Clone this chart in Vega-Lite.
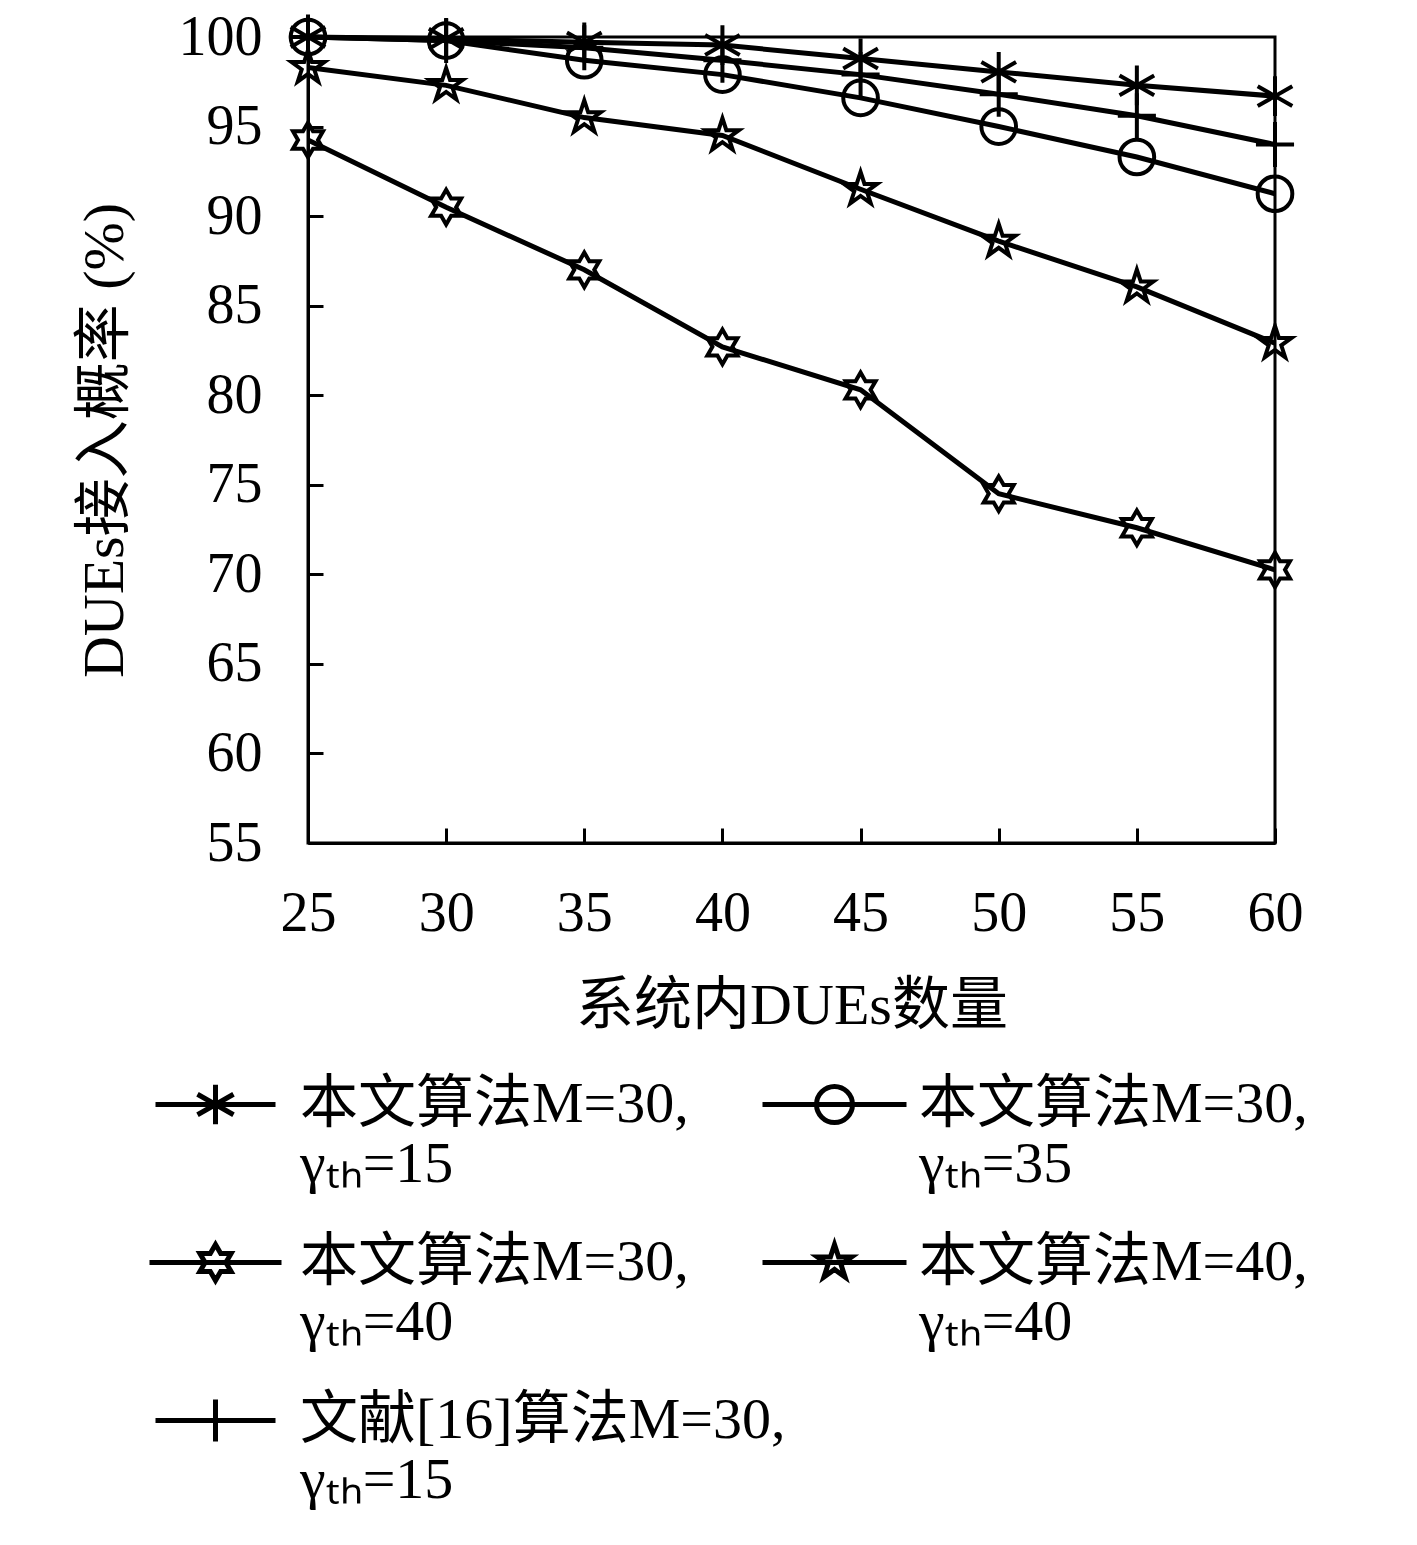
{
  "$schema": "https://vega.github.io/schema/vega-lite/v6.json",
  "description": "DUEs access probability versus number of DUEs in the system",
  "width": 967,
  "height": 806,
  "autosize": {"type": "none"},
  "padding": {"left": 308, "top": 37, "right": 142, "bottom": 702},
  "background": "white",
  "data": {
    "values": [
      {"n": 25, "p": 100, "series": "本文算法M=30,|γₜₕ=15"},
      {"n": 30, "p": 99.9, "series": "本文算法M=30,|γₜₕ=15"},
      {"n": 35, "p": 99.7, "series": "本文算法M=30,|γₜₕ=15"},
      {"n": 40, "p": 99.55, "series": "本文算法M=30,|γₜₕ=15"},
      {"n": 45, "p": 98.8, "series": "本文算法M=30,|γₜₕ=15"},
      {"n": 50, "p": 98.05, "series": "本文算法M=30,|γₜₕ=15"},
      {"n": 55, "p": 97.3, "series": "本文算法M=30,|γₜₕ=15"},
      {"n": 60, "p": 96.7, "series": "本文算法M=30,|γₜₕ=15"},
      {"n": 25, "p": 100, "series": "本文算法M=30,|γₜₕ=35"},
      {"n": 30, "p": 99.8, "series": "本文算法M=30,|γₜₕ=35"},
      {"n": 35, "p": 98.7, "series": "本文算法M=30,|γₜₕ=35"},
      {"n": 40, "p": 97.9, "series": "本文算法M=30,|γₜₕ=35"},
      {"n": 45, "p": 96.6, "series": "本文算法M=30,|γₜₕ=35"},
      {"n": 50, "p": 95.0, "series": "本文算法M=30,|γₜₕ=35"},
      {"n": 55, "p": 93.3, "series": "本文算法M=30,|γₜₕ=35"},
      {"n": 60, "p": 91.25, "series": "本文算法M=30,|γₜₕ=35"},
      {"n": 25, "p": 94.25, "series": "本文算法M=30,|γₜₕ=40"},
      {"n": 30, "p": 90.5, "series": "本文算法M=30,|γₜₕ=40"},
      {"n": 35, "p": 87.0, "series": "本文算法M=30,|γₜₕ=40"},
      {"n": 40, "p": 82.7, "series": "本文算法M=30,|γₜₕ=40"},
      {"n": 45, "p": 80.3, "series": "本文算法M=30,|γₜₕ=40"},
      {"n": 50, "p": 74.5, "series": "本文算法M=30,|γₜₕ=40"},
      {"n": 55, "p": 72.6, "series": "本文算法M=30,|γₜₕ=40"},
      {"n": 60, "p": 70.25, "series": "本文算法M=30,|γₜₕ=40"},
      {"n": 25, "p": 98.3, "series": "本文算法M=40,|γₜₕ=40"},
      {"n": 30, "p": 97.3, "series": "本文算法M=40,|γₜₕ=40"},
      {"n": 35, "p": 95.5, "series": "本文算法M=40,|γₜₕ=40"},
      {"n": 40, "p": 94.5, "series": "本文算法M=40,|γₜₕ=40"},
      {"n": 45, "p": 91.5, "series": "本文算法M=40,|γₜₕ=40"},
      {"n": 50, "p": 88.6, "series": "本文算法M=40,|γₜₕ=40"},
      {"n": 55, "p": 86.05, "series": "本文算法M=40,|γₜₕ=40"},
      {"n": 60, "p": 82.9, "series": "本文算法M=40,|γₜₕ=40"},
      {"n": 25, "p": 100, "series": "文献[16]算法M=30,|γₜₕ=15"},
      {"n": 30, "p": 99.8, "series": "文献[16]算法M=30,|γₜₕ=15"},
      {"n": 35, "p": 99.4, "series": "文献[16]算法M=30,|γₜₕ=15"},
      {"n": 40, "p": 98.7, "series": "文献[16]算法M=30,|γₜₕ=15"},
      {"n": 45, "p": 97.9, "series": "文献[16]算法M=30,|γₜₕ=15"},
      {"n": 50, "p": 96.8, "series": "文献[16]算法M=30,|γₜₕ=15"},
      {"n": 55, "p": 95.6, "series": "文献[16]算法M=30,|γₜₕ=15"},
      {"n": 60, "p": 94.0, "series": "文献[16]算法M=30,|γₜₕ=15"}
    ]
  },
  "encoding": {
    "x": {
      "field": "n",
      "type": "quantitative",
      "scale": {"domain": [25, 60], "nice": false, "zero": false},
      "axis": {
        "values": [25, 30, 35, 40, 45, 50, 55, 60],
        "title": "系统内DUEs数量",
        "labelPadding": 58,
        "labelFlush": false,
        "titleY": 163,
        "titleBaseline": "middle"
      }
    },
    "y": {
      "field": "p",
      "type": "quantitative",
      "scale": {"domain": [55, 100], "nice": false, "zero": false},
      "axis": {
        "values": [55, 60, 65, 70, 75, 80, 85, 90, 95, 100],
        "title": "DUEs接入概率 (%)",
        "labelPadding": 61,
        "labelFlush": false,
        "titleX": -203,
        "titleY": 403,
        "titleAngle": -90,
        "titleAlign": "center",
        "titleBaseline": "middle"
      }
    }
  },
  "layer": [
    {
      "mark": {"type": "line", "color": "black", "strokeWidth": 5},
      "encoding": {"detail": {"field": "series", "type": "nominal"}}
    },
    {
      "mark": {"type": "point", "filled": false, "color": "black", "strokeWidth": 4, "size": 1200, "opacity": 1},
      "encoding": {
        "shape": {
          "field": "series",
          "type": "nominal",
          "scale": {
            "domain": ["本文算法M=30,|γₜₕ=15", "本文算法M=30,|γₜₕ=35", "本文算法M=30,|γₜₕ=40", "本文算法M=40,|γₜₕ=40", "文献[16]算法M=30,|γₜₕ=15"],
            "range": [
              "M0,-1.15L0,1.15M-1,-0.575L1,0.575M-1,0.575L1,-0.575",
              "circle",
              "M0,-1L0.289,-0.5L0.866,-0.5L0.577,0L0.866,0.5L0.289,0.5L0,1L-0.289,0.5L-0.866,0.5L-0.577,0L-0.866,-0.5L-0.289,-0.5Z",
              "M0,-1L0.225,-0.309L0.951,-0.309L0.363,0.118L0.588,0.809L0,0.382L-0.588,0.809L-0.363,0.118L-0.951,-0.309L-0.225,-0.309Z",
              "M0,-1.3L0,1.3M-1.1,0L1.1,0"
            ]
          },
          "legend": null
        }
      }
    },
    {
      "mark": {"type": "point", "filled": false, "color": "black", "strokeOpacity": 0, "fillOpacity": 0, "size": 14400},
      "encoding": {
        "shape": {
          "field": "series",
          "type": "nominal",
          "scale": {
            "domain": ["本文算法M=30,|γₜₕ=15", "本文算法M=30,|γₜₕ=40", "文献[16]算法M=30,|γₜₕ=15", "本文算法M=30,|γₜₕ=35", "本文算法M=40,|γₜₕ=40"],
            "range": [
              "M-1,0L1,0M0,-0.33L0,0.33M-0.3,-0.17L0.3,0.17M-0.3,0.17L0.3,-0.17",
              "M-1.1,0L1.1,0M0,-0.3L0.087,-0.15L0.26,-0.15L0.173,0L0.26,0.15L0.087,0.15L0,0.3L-0.087,0.15L-0.26,0.15L-0.173,0L-0.26,-0.15L-0.087,-0.15Z",
              "M-1,0L1,0M0,-0.35L0,0.35",
              "M-1.2,0L1.2,0M0.3,0A0.3,0.3 0 1,1 -0.3,0A0.3,0.3 0 1,1 0.3,0",
              "M-1.2,0L1.2,0M0,-0.3L0.068,-0.093L0.285,-0.093L0.109,0.035L0.176,0.243L0,0.115L-0.176,0.243L-0.109,0.035L-0.285,-0.093L-0.068,-0.093Z"
            ]
          },
          "legend": {
            "title": null,
            "orient": "none",
            "legendX": -155,
            "legendY": 1005,
            "columns": 2,
            "gridAlign": "none",
            "columnPadding": -34,
            "rowPadding": 6,
            "labelFontSize": 58,
            "labelColor": "black",
            "labelLimit": 1000,
            "labelOffset": 22,
            "labelExpr": "split(datum.label, '|')",
            "symbolSize": 14400,
            "symbolStrokeWidth": 5,
            "symbolStrokeColor": "black",
            "symbolFillColor": "transparent",
            "symbolOpacity": 1
          }
        }
      }
    }
  ],
  "resolve": {"scale": {"shape": "independent"}, "legend": {"shape": "independent"}},
  "config": {
    "font": "Liberation Serif, Noto Sans CJK SC",
    "view": {"stroke": "black", "strokeWidth": 3},
    "axis": {
      "grid": false,
      "domainColor": "black",
      "domainWidth": 3,
      "tickColor": "black",
      "tickWidth": 3,
      "tickSize": -15,
      "labelFontSize": 56,
      "labelColor": "black",
      "labelFont": "Liberation Serif, Noto Sans CJK SC",
      "titleFontSize": 58,
      "titleFontWeight": "normal",
      "titleColor": "black",
      "titleFont": "Liberation Serif, Noto Sans CJK SC"
    },
    "legend": {
      "labelFont": "Liberation Serif, Noto Sans CJK SC"
    }
  }
}
